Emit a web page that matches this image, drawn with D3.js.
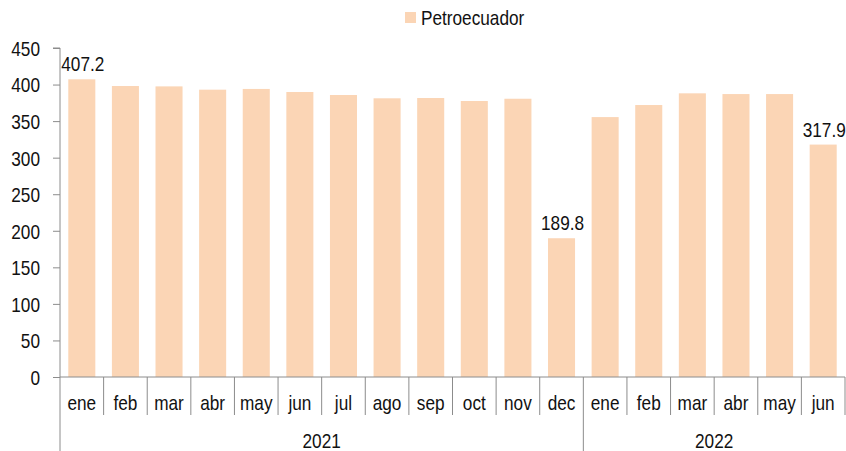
<!DOCTYPE html>
<html>
<head>
<meta charset="utf-8">
<script src="https://cdn.jsdelivr.net/npm/d3@7"></script>
<style>
  body { margin: 0; background: #fff; }
  text { font-family: "Liberation Sans", Arial, sans-serif; font-size: 21px; fill: #111; }
</style>
</head>
<body>
<svg id="chart" width="846" height="451"></svg>
<script>
const months = ["ene", "feb", "mar", "abr", "may", "jun", "jul", "ago", "sep", "oct", "nov", "dec",
  "ene", "feb", "mar", "abr", "may", "jun"];
const years = ["2021", "2022"];
const monthsPerYear = [12, 6];
const values = [407.2, 398, 397.5, 393, 394, 389.8, 385.7, 381.2, 381.6, 377.5, 380.6, 189.8,
  355.5, 372, 388, 387, 387, 317.9];
const labelled = [0, 11, 17]; // bars that carry a value label
const yTicks = [0, 50, 100, 150, 200, 250, 300, 350, 400, 450];

const svg = d3.select("#chart");
const plotLeft = 60, plotRight = 845, plotTop = 48, plotBottom = 377;
const barColor = "#fbd5b5";
const axisColor = "#8c8c8c";
const squeeze = 0.82; // narrow font look

// put a text at (tx, ty) squeezed horizontally
function narrowText(g, tx, ty, str, anchor) {
  return g.append("text")
    .attr("transform", `translate(${tx},${ty}) scale(${squeeze},1)`)
    .attr("text-anchor", anchor || "middle")
    .text(str);
}

const keys = months.map((m, i) => i);
const x = d3.scaleBand().domain(keys).range([plotLeft, plotRight]).paddingInner(0.38).paddingOuter(0.19);
const y = d3.scaleLinear().domain([0, 450]).range([plotBottom, plotTop]);

// bars
svg.append("g").selectAll("rect")
  .data(values)
  .enter()
  .append("rect")
  .attr("x", (d, i) => x(i))
  .attr("y", d => y(d))
  .attr("width", x.bandwidth())
  .attr("height", d => plotBottom - y(d))
  .attr("fill", barColor);

// value labels
const lg = svg.append("g");
labelled.forEach(i => {
  narrowText(lg, x(i) + x.bandwidth() / 2 + 1, y(values[i]) - 8, values[i].toFixed(1));
});

// y axis
const yAxis = d3.axisLeft(y).tickValues(yTicks).tickSize(7).tickPadding(13);
const yg = svg.append("g").attr("transform", `translate(${plotLeft},0)`).call(yAxis);
yg.select(".domain").attr("stroke", axisColor).attr("d", `M-7,${plotTop}H0V${plotBottom}`);
yg.selectAll(".tick line").attr("stroke", axisColor);
yg.selectAll(".tick text")
  .attr("x", -20 / squeeze)
  .attr("dy", "0.35em")
  .attr("transform", `scale(${squeeze},1)`)
  .attr("fill", "#111")
  .style("font-size", "21px")
  .style("font-family", "'Liberation Sans', Arial, sans-serif");

// x axis baseline and category separators
const step = x.step();
const xg = svg.append("g");
xg.append("line")
  .attr("x1", plotLeft).attr("x2", plotRight).attr("y1", plotBottom).attr("y2", plotBottom)
  .attr("stroke", axisColor);

let yearStart = 0;
const yearBounds = [0];
monthsPerYear.forEach(n => { yearStart += n; yearBounds.push(yearStart); });

d3.range(months.length + 1).forEach(i => {
  const isYear = yearBounds.includes(i);
  xg.append("line")
    .attr("x1", plotLeft + i * step).attr("x2", plotLeft + i * step)
    .attr("y1", plotBottom).attr("y2", isYear && i < months.length ? 451 : 415)
    .attr("stroke", axisColor);
});

// month labels
months.forEach((m, i) => narrowText(xg, plotLeft + (i + 0.5) * step, 410, m));

// year labels
years.forEach((yr, i) => {
  narrowText(xg, plotLeft + (yearBounds[i] + yearBounds[i + 1]) / 2 * step, 448, yr);
});

// legend
const legend = svg.append("g");
legend.append("rect").attr("x", 405).attr("y", 12).attr("width", 11).attr("height", 11).attr("fill", barColor);
narrowText(legend, 421, 25, "Petroecuador", "start");
</script>
</body>
</html>
